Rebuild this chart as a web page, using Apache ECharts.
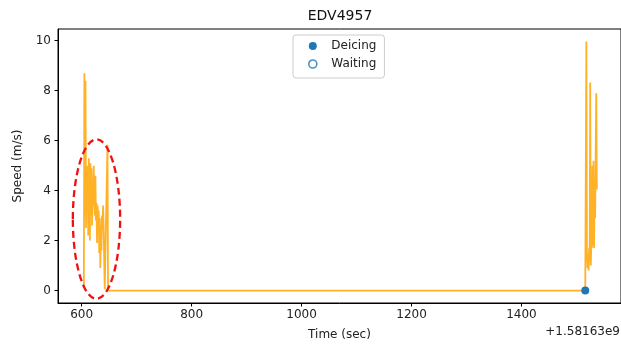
<!DOCTYPE html>
<html>
<head>
<meta charset="utf-8">
<script src="https://cdn.jsdelivr.net/npm/echarts@6/dist/echarts.min.js"></script>
<style>
html,body{margin:0;padding:0;background:#fff;}
#chart{width:621px;height:346px;}
</style>
</head>
<body>
<div id="chart"></div>
<script>
// ---- data (time offset from 1.58163e9 s, speed in m/s) ----
const chartTitle = 'EDV4957';
const timeOffsetLabel = '+1.58163e9';
const xTicks = [600, 800, 1000, 1200, 1400];
const yTicks = [0, 2, 4, 6, 8, 10];
const timeSec = [604, 605, 606, 607, 608, 609, 610, 611, 612, 613, 614, 615, 616, 617, 618, 619, 620,
  621, 622, 623, 624, 625, 626, 627, 628, 629, 630, 631, 632, 633, 634, 635, 636, 637, 638, 639, 640,
  641, 642, 643, 644, 645, 646, 647, 648, 1516, 1518, 1519, 1520, 1521, 1522, 1523, 1524, 1525, 1526,
  1527, 1528, 1529, 1530, 1531, 1532, 1533, 1534, 1535, 1536, 1537];
const speed = [0.1, 8.7, 3.0, 8.4, 2.5, 4.8, 3.2, 5.0, 2.2, 5.3, 3.5, 2.0, 5.1, 3.0, 4.9, 2.6, 4.2,
  3.4, 5.0, 3.6, 3.0, 4.6, 2.8, 3.5, 1.9, 3.4, 2.4, 3.2, 1.5, 2.9, 0.9, 2.6, 1.6, 3.0, 2.4, 3.4, 2.6,
  1.2, 0.05, 0.0, 0.0, 0.0, 0.0, 5.84, 0.0, 0.0, 9.97, 1.6, 0.9, 1.3, 0.8, 1.7, 1.2, 8.33, 1.0,
  1.8, 1.7, 5.0, 1.8, 5.2, 1.7, 4.4, 2.9, 5.5, 7.9, 4.05];
const deicingTime = [1516];
const deicingSpeed = [0];
const waitingTime = [];
const waitingSpeed = [];
// annotation ellipse (data units): center time, center speed, radius time, radius speed
const highlight = [627, 2.86, 43, 3.19];

const FONT = 'DejaVu Sans';
const BLUE = '#1f77b4';

const lineData = timeSec.map((t, i) => [t, speed[i]]);
const deicingData = deicingTime.map((t, i) => [t, deicingSpeed[i]]);
const waitingData = waitingTime.map((t, i) => [t, waitingSpeed[i]]);

const chart = echarts.init(document.getElementById('chart'), null, {renderer: 'canvas'});
chart.setOption({
  animation: false,
  backgroundColor: '#fff',
  grid: {left: 58, right: 0, top: 29, bottom: 42, show: true, borderColor: '#000', borderWidth: 1, backgroundColor: 'transparent'},
  xAxis: {
    type: 'value', min: 557, max: 1581,
    name: 'Time (sec)', nameLocation: 'middle', nameGap: 26,
    nameTextStyle: {fontFamily: FONT, fontSize: 12, color: '#222'},
    axisLine: {show: true, onZero: false, lineStyle: {color: '#000', width: 1}},
    axisTick: {show: true, length: 3.5, lineStyle: {color: '#000'}, customValues: xTicks},
    axisLabel: {fontFamily: FONT, fontSize: 12, color: '#222', margin: 6, customValues: xTicks,
      formatter: v => String(v)},
    splitLine: {show: false}
  },
  yAxis: {
    type: 'value', min: -0.4985, max: 10.47,
    name: 'Speed (m/s)', nameLocation: 'middle', nameGap: 34, nameRotate: 90,
    nameTextStyle: {fontFamily: FONT, fontSize: 12, color: '#222'},
    axisLine: {show: true, onZero: false, lineStyle: {color: '#000', width: 1}},
    axisTick: {show: true, length: 3.5, lineStyle: {color: '#000'}, customValues: yTicks},
    axisLabel: {fontFamily: FONT, fontSize: 12, color: '#222', margin: 7, customValues: yTicks,
      formatter: v => String(v)},
    splitLine: {show: false}
  },
  legend: {
    orient: 'vertical', left: 293, top: 35,
    padding: [5, 8, 8, 15], itemGap: 6, itemWidth: 27, itemHeight: 8,
    borderColor: '#ccc', borderWidth: 1, borderRadius: 3, backgroundColor: 'rgba(255,255,255,0.8)',
    textStyle: {fontFamily: FONT, fontSize: 12, color: '#222'},
    data: [
      {name: 'Deicing', icon: 'circle', itemStyle: {color: BLUE, borderWidth: 0}},
      {name: 'Waiting', icon: 'circle', itemStyle: {color: '#fff', borderColor: BLUE, borderWidth: 1.6}}
    ]
  },
  graphic: [
    {type: 'text', x: 340, y: 16, style: {text: chartTitle, font: '14px "DejaVu Sans"', fill: '#111', align: 'center', verticalAlign: 'middle'}},
    {type: 'text', x: 620, y: 332, style: {text: timeOffsetLabel, font: '12px "DejaVu Sans"', fill: '#222', align: 'right', verticalAlign: 'middle'}}
  ],
  series: [
    {
      name: 'speed', type: 'line', data: lineData, showSymbol: false, symbol: 'none',
      lineStyle: {color: '#ffa500', width: 1.8, opacity: 0.85}, z: 2
    },
    {
      name: 'Deicing', type: 'scatter', data: deicingData, symbol: 'circle', symbolSize: 8,
      itemStyle: {color: BLUE, opacity: 1}, z: 4
    },
    {
      name: 'Waiting', type: 'scatter', data: waitingData, symbol: 'circle', symbolSize: 8,
      itemStyle: {color: '#fff', borderColor: BLUE, borderWidth: 1.6}, z: 4
    },
    {
      name: 'highlight', type: 'custom', data: [highlight], silent: true, clip: false, z: 5,
      encode: {x: 0, y: 1},
      renderItem: function (params, api) {
        const c = api.coord([api.value(0), api.value(1)]);
        const s = api.size([api.value(2), api.value(3)]);
        return {
          type: 'ellipse',
          shape: {cx: c[0], cy: c[1], rx: s[0], ry: s[1]},
          style: {fill: 'none', stroke: '#ee1111', lineWidth: 2.3, lineDash: [7, 4]}
        };
      }
    }
  ]
});
</script>
</body>
</html>
